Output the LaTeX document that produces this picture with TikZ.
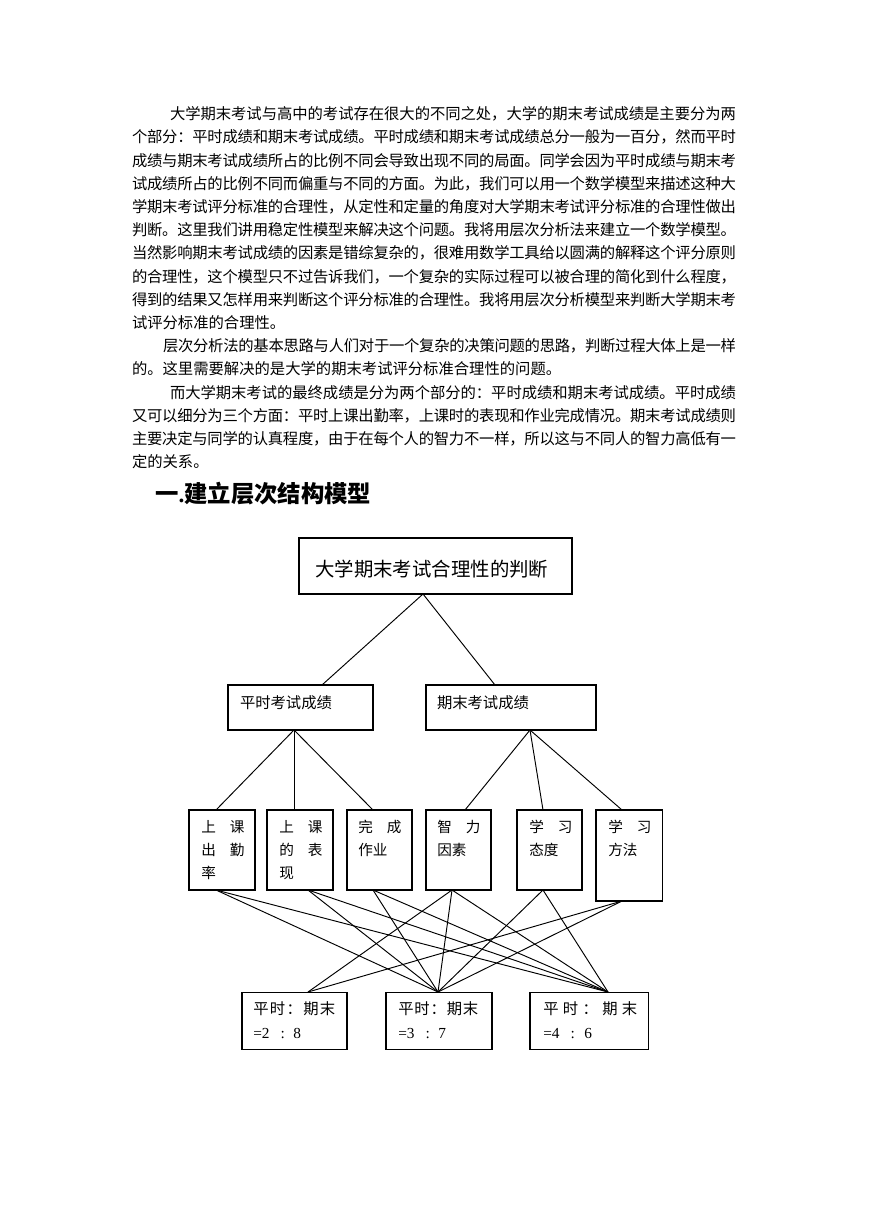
\documentclass[tikz,border=0pt]{standalone}
\usepackage{fontspec}
\setmainfont{Liberation Serif}
\newfontfamily\cjk{Noto Sans CJK SC}
\usetikzlibrary{calc}
\newdimen\pxu \pxu=0.685pt
\ExplSyntaxOn
\cs_new_protected:Npn \my_spread_line:nn #1#2
  { \hbox_to_wd:nn {#1} { \tl_map_inline:nn {#2} { ##1 \hskip 0pt plus 1fil minus 1fil } \unskip } }
\NewDocumentCommand \sline { m m } { \my_spread_line:nn {#1} {#2} }
\ExplSyntaxOff
\newcommand\bodyfont{\cjk\fontsize{10.5pt}{12pt}\selectfont}
\newcommand\gp{\hspace{14\pxu}}
\tikzset{
  body/.style={anchor=base west, inner sep=0pt, outer sep=0pt, font=\bodyfont},
  box/.style={draw, line width=0.7pt, inner sep=0pt, outer sep=0pt, anchor=north west},
  link/.style={line width=0.65pt},
  boxtxt/.style={anchor=base west, inner sep=0pt, font=\cjk\fontsize{10pt}{12pt}\selectfont},
  ratiotxt/.style={anchor=base west, inner sep=0pt, font=\cjk\fontsize{10.5pt}{12pt}\selectfont},
}
\begin{document}
\begin{tikzpicture}[x=0.685pt,y=-0.685pt]
\useasboundingbox (0,0) rectangle (869,1228);
\fill[white] (0,0) rectangle (869,1228);

% ---------------- body text ----------------
\node[body] (l1)  at (170,119.7) {\sline{566\pxu}{大学期末考试与高中的考试存在很大的不同之处，大学的期末考试成绩是主要分为两}};
\node[body] (l2)  at (132,142.9) {\sline{604\pxu}{个部分：平时成绩和期末考试成绩。平时成绩和期末考试成绩总分一般为一百分，然而平时}};
\node[body] (l3)  at (132,166.1) {\sline{604\pxu}{成绩与期末考试成绩所占的比例不同会导致出现不同的局面。同学会因为平时成绩与期末考}};
\node[body] (l4)  at (132,189.3) {\sline{604\pxu}{试成绩所占的比例不同而偏重与不同的方面。为此，我们可以用一个数学模型来描述这种大}};
\node[body] (l5)  at (132,212.5) {\sline{604\pxu}{学期末考试评分标准的合理性，从定性和定量的角度对大学期末考试评分标准的合理性做出}};
\node[body] (l6)  at (132,235.7) {\sline{604\pxu}{判断。这里我们讲用稳定性模型来解决这个问题。我将用层次分析法来建立一个数学模型。}};
\node[body] (l7)  at (132,258.9) {\sline{604\pxu}{当然影响期末考试成绩的因素是错综复杂的，很难用数学工具给以圆满的解释这个评分原则}};
\node[body] (l8)  at (132,282.1) {\sline{604\pxu}{的合理性，这个模型只不过告诉我们，一个复杂的实际过程可以被合理的简化到什么程度，}};
\node[body] (l9)  at (132,305.3) {\sline{604\pxu}{得到的结果又怎样用来判断这个评分标准的合理性。我将用层次分析模型来判断大学期末考}};
\node[body] (l10) at (132,328.5) {试评分标准的合理性。};
\node[body] (l11) at (163,351.7) {\sline{573\pxu}{层次分析法的基本思路与人们对于一个复杂的决策问题的思路，判断过程大体上是一样}};
\node[body] (l12) at (132,374.9) {的。这里需要解决的是大学的期末考试评分标准合理性的问题。};
\node[body] (l13) at (170,398.1) {\sline{566\pxu}{而大学期末考试的最终成绩是分为两个部分的：平时成绩和期末考试成绩。平时成绩}};
\node[body] (l14) at (132,421.3) {\sline{604\pxu}{又可以细分为三个方面：平时上课出勤率，上课时的表现和作业完成情况。期末考试成绩则}};
\node[body] (l15) at (132,444.5) {\sline{604\pxu}{主要决定与同学的认真程度，由于在每个人的智力不一样，所以这与不同人的智力高低有一}};
\node[body] (l16) at (132,467.7) {定的关系。};

% heading
\node[anchor=base west, inner sep=0pt, font=\cjk\bfseries\fontsize{16pt}{19pt}\selectfont] (head) at (155,502) {一{\rmfamily\bfseries .}建立层次结构模型};

% ---------------- boxes ----------------
\node[box, minimum width=273\pxu, minimum height=56\pxu] (goal) at (299,538) {};
\node[box, minimum width=145\pxu, minimum height=45\pxu] (ps) at (228,685) {};
\node[box, minimum width=170\pxu, minimum height=45\pxu] (qm) at (426,685) {};

\node[box, minimum width=66\pxu, minimum height=80\pxu] (A) at (189,810) {};
\node[box, minimum width=66\pxu, minimum height=80\pxu] (B) at (267,810) {};
\node[box, minimum width=65\pxu, minimum height=80\pxu] (C) at (347,810) {};
\node[box, minimum width=65\pxu, minimum height=80\pxu] (D) at (426,810) {};
\node[box, minimum width=65\pxu, minimum height=80\pxu] (E) at (517,810) {};
\node[box, minimum width=66\pxu, minimum height=91\pxu] (F) at (596,810) {};

\node[box, minimum width=105\pxu, minimum height=57\pxu] (R1) at (242,992) {};
\node[box, minimum width=106\pxu, minimum height=57\pxu] (R2) at (386,992) {};
\node[box, minimum width=118\pxu, minimum height=57\pxu] (R3) at (530,992) {};

% ---------------- box texts ----------------
\node[anchor=base west, inner sep=0pt, font=\cjk\fontsize{13.3pt}{16pt}\selectfont] (tgoal) at (315,576.5) {大学期末考试合理性的判断};
\node[body] (tps) at (240,708) {平时考试成绩};
\node[body] (tqm) at (437,708) {期末考试成绩};

\node[boxtxt] (tA) at (201,832) {\parbox[t]{60\pxu}{\setlength{\baselineskip}{23\pxu}上\gp 课\par 出\gp 勤\par 率}};
\node[boxtxt] (tB) at (279,832) {\parbox[t]{60\pxu}{\setlength{\baselineskip}{23\pxu}上\gp 课\par 的\gp 表\par 现}};
\node[boxtxt] (tC) at (358,832) {\parbox[t]{60\pxu}{\setlength{\baselineskip}{23\pxu}完\gp 成\par 作业}};
\node[boxtxt] (tD) at (437,832) {\parbox[t]{60\pxu}{\setlength{\baselineskip}{23\pxu}智\gp 力\par 因素}};
\node[boxtxt] (tE) at (529,832) {\parbox[t]{60\pxu}{\setlength{\baselineskip}{23\pxu}学\gp 习\par 态度}};
\node[boxtxt] (tF) at (608,832) {\parbox[t]{60\pxu}{\setlength{\baselineskip}{23\pxu}学\gp 习\par 方法}};

\node[ratiotxt] (tR1) at (253,1014) {\sline{82\pxu}{平时：期末}};
\node[ratiotxt] (tR1b) at (253,1038) {{\rmfamily =2\hspace{11\pxu}:\hspace{8.5\pxu}8}};
\node[ratiotxt] (tR2) at (398,1014) {\sline{80\pxu}{平时：期末}};
\node[ratiotxt] (tR2b) at (398,1038) {{\rmfamily =3\hspace{11\pxu}:\hspace{8.5\pxu}7}};
\node[ratiotxt] (tR3) at (543,1014) {\sline{94\pxu}{平时：期末}};
\node[ratiotxt] (tR3b) at (543,1038) {{\rmfamily =4\hspace{11\pxu}:\hspace{9.4\pxu}6}};

% ---------------- connectors ----------------
\draw[link] ($(goal.south)+(-12.5,0)$) -- ($(ps.north)+(21.5,0)$);
\draw[link] ($(goal.south)+(-12.5,0)$) -- ($(qm.north)+(-16,0)$);

\draw[link] ($(ps.south)+(-6.5,0)$) -- ($(A.north)+(-6,0)$);
\draw[link] ($(ps.south)+(-6.5,0)$) -- ($(B.north)+(-6,0)$);
\draw[link] ($(ps.south)+(-6.5,0)$) -- ($(C.north)+(-6.5,0)$);
\draw[link] ($(qm.south)+(19,0)$) -- ($(D.north)+(6.5,0)$);
\draw[link] ($(qm.south)+(19,0)$) -- ($(E.north)+(-6.5,0)$);
\draw[link] ($(qm.south)+(19,0)$) -- ($(F.north)+(-7,0)$);

\coordinate (r1t) at ($(R1.north)+(13.5,0)$);
\coordinate (r2t) at ($(R2.north)+(-1,0)$);
\coordinate (r3t) at ($(R3.north)+(19,0)$);

\draw[link] ($(A.south)+(-6,0)$) -- (r2t);
\draw[link] ($(A.south)+(-6,0)$) -- (r3t);
\draw[link] ($(B.south)+(8,0)$) -- (r2t);
\draw[link] ($(B.south)+(8,0)$) -- (r3t);
\draw[link] ($(C.south)+(-6.5,0)$) -- (r2t);
\draw[link] ($(C.south)+(-6.5,0)$) -- (r3t);
\draw[link] ($(D.south)+(-6.5,0)$) -- (r1t);
\draw[link] ($(D.south)+(-6.5,0)$) -- (r2t);
\draw[link] ($(D.south)+(-6.5,0)$) -- (r3t);
\draw[link] ($(E.south)+(-6.5,0)$) -- (r2t);
\draw[link] ($(E.south)+(-6.5,0)$) -- (r3t);
\draw[link] ($(F.south)+(-7,0)$) -- (r1t);
\draw[link] ($(F.south)+(-7,0)$) -- (r2t);
\end{tikzpicture}
\end{document}
